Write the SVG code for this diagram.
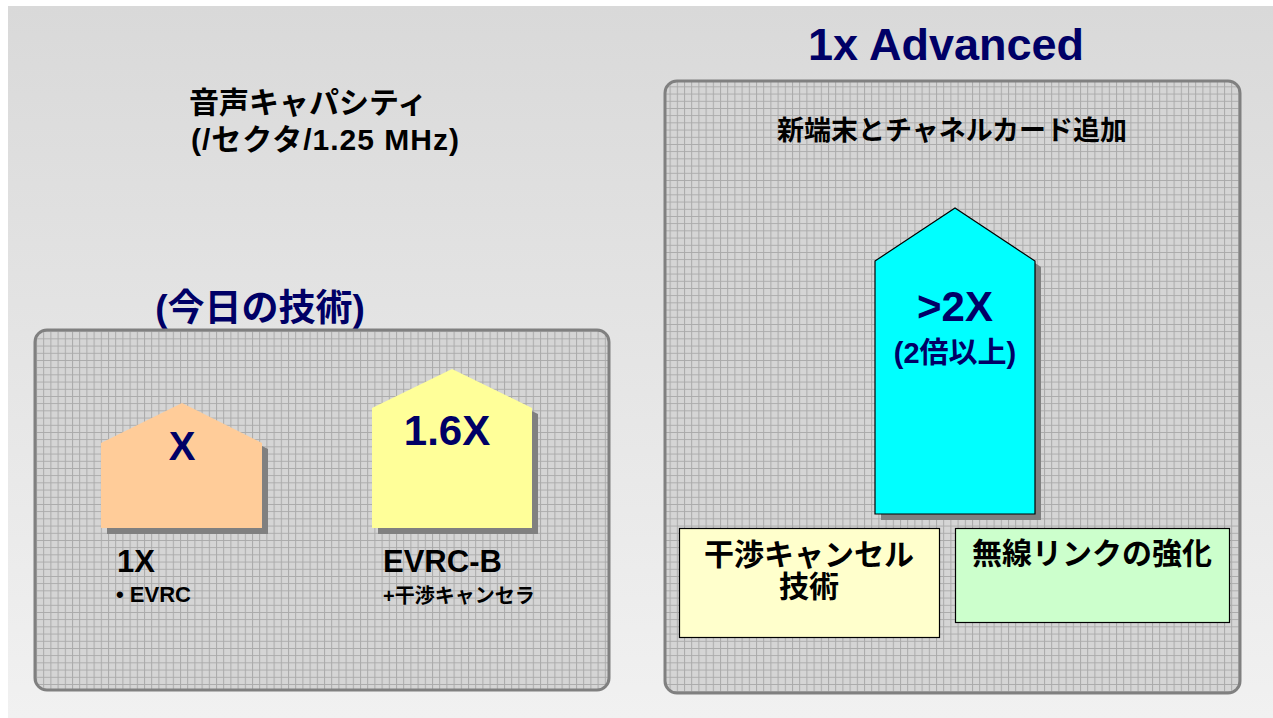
<svg xmlns="http://www.w3.org/2000/svg" width="1273" height="718" viewBox="0 0 1273 718">
<style>
.t{font-family:"Liberation Sans","Noto Sans CJK JP",sans-serif;font-weight:bold}
.navy{fill:#000066}
.blk{fill:#000000}
.panel{fill:url(#grid);stroke:#808080;stroke-width:3}
.shadow{fill:#808080}
.box{stroke:#000;stroke-width:1.2}
</style>
<defs>
<linearGradient id="bg" x1="0" y1="0" x2="0" y2="1">
<stop offset="0" stop-color="#d9d9d9"/>
<stop offset="1" stop-color="#f1f1f1"/>
</linearGradient>
<pattern id="grid" patternUnits="userSpaceOnUse" width="7.2" height="7.2">
<rect width="7.2" height="7.2" fill="#d5d5d5"/>
<path d="M0 0.5H7.2M0.5 0V7.2" stroke="#aaaaaa" stroke-width="1" fill="none"/>
</pattern>
</defs>
<rect x="0" y="0" width="1273" height="718" fill="#ffffff"/>
<rect x="8" y="6" width="1265" height="712" fill="url(#bg)"/>

<g id="title">
<text class="t blk" x="189" y="113" font-size="30">音声キャパシティ</text>
<text class="t blk" x="191" y="150" font-size="30" textLength="268">(/セクタ/1.25 MHz)</text>
</g>

<g id="today-label">
<text class="t navy" x="260" y="321" font-size="37" text-anchor="middle">(今日の技術)</text>
</g>

<g id="panel-today">
<rect class="panel" x="35" y="330" width="574" height="360" rx="12"/>
</g>

<g id="house-1x">
<polygon class="shadow" points="107,449 188,409 268,449 268,534 107,534"/>
<polygon fill="#ffcc99" points="101,443 182,403 262,443 262,528 101,528"/>
<text class="t navy" x="182" y="460" font-size="40" text-anchor="middle">X</text>
<text class="t blk" x="117" y="572" font-size="31">1X</text>
<text class="t blk" x="116" y="602" font-size="22">• EVRC</text>
</g>

<g id="house-evrcb">
<polygon class="shadow" points="378,414 458,375 538,414 538,534 378,534"/>
<polygon fill="#ffff99" points="372,408 452,369 532,408 532,528 372,528"/>
<text class="t navy" x="447" y="445" font-size="42" text-anchor="middle">1.6X</text>
<text class="t blk" x="383" y="572" font-size="31">EVRC-B</text>
<text class="t blk" x="383" y="603" font-size="20">+干渉キャンセラ</text>
</g>

<g id="advanced-label">
<text class="t navy" x="946" y="60" font-size="45" text-anchor="middle">1x Advanced</text>
</g>

<g id="panel-advanced">
<rect class="panel" x="665" y="81" width="575" height="612" rx="12"/>
<text class="t blk" x="952" y="140" font-size="27" text-anchor="middle">新端末とチャネルカード追加</text>
</g>

<g id="house-2x">
<polygon class="shadow" points="881,267 961,214 1041,267 1041,520 881,520"/>
<polygon fill="#00ffff" stroke="#000" stroke-width="1.2" points="875,261 955,208 1035,261 1035,514 875,514"/>
<text class="t navy" x="955" y="321" font-size="42" text-anchor="middle">&gt;2X</text>
<text class="t navy" x="955" y="363" font-size="29" text-anchor="middle">(2倍以上)</text>
</g>

<g id="box-interference">
<rect class="box" x="679.5" y="528.5" width="260" height="109" fill="#ffffcc"/>
<text class="t blk" x="809" y="565" font-size="30" text-anchor="middle">干渉キャンセル</text>
<text class="t blk" x="809" y="597" font-size="30" text-anchor="middle">技術</text>
</g>

<g id="box-radio">
<rect class="box" x="955.5" y="528.5" width="274" height="94" fill="#ccffcc"/>
<text class="t blk" x="1092" y="564" font-size="30" text-anchor="middle">無線リンクの強化</text>
</g>

<g id="connectors"></g>
</svg>
